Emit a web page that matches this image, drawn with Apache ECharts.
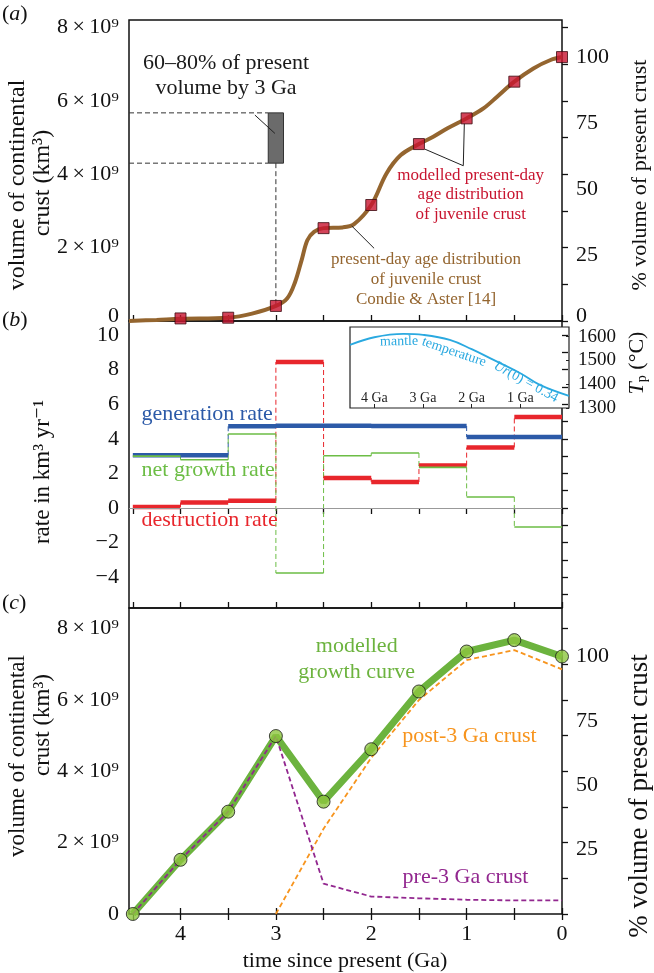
<!DOCTYPE html>
<html><head><meta charset="utf-8">
<script src="https://cdn.jsdelivr.net/npm/echarts@6/dist/echarts.min.js"></script>
<style>html,body{margin:0;padding:0;background:#fff}#c{width:654px;height:973px}</style>
</head><body><div id="c"></div><script>
const FONT = "'Liberation Serif','DejaVu Serif',serif";

// ---------- Panel (a): volume (x 1e9 km3) vs time (Ga) ----------
const condieAge = [4.54,4.25,4.0,3.5,3.25,3.0,2.88,2.8,2.73,2.67,2.6,2.5,2.3,2.18,2.0,1.84,1.69,1.5,1.35,1.2,1.0,0.82,0.68,0.5,0.3,0.12,0];
const condieVol = [0,0.03,0.06,0.09,0.2,0.41,0.62,1.05,1.66,2.2,2.43,2.53,2.55,2.64,3.16,4.02,4.52,4.82,5.02,5.25,5.52,5.8,6.11,6.52,6.88,7.11,7.19];
const modelAge = [4,3.5,3,2.5,2,1.5,1,0.5,0];
const modelVol = [0.07,0.09,0.41,2.53,3.16,4.82,5.52,6.52,7.19];
const boxAge = [3.08,2.92];
const boxVol = [4.30,5.67];
const presentVol = 7.19;

// ---------- Panel (b): rates (km3/yr) ----------
const stepEdges = [4.5,4,3.5,3,2.5,2,1.5,1,0.5,0];
const genRate = [3.05,3.05,4.72,4.76,4.76,4.74,4.74,4.10,4.10];
const netRate = [3.00,2.79,4.28,-3.76,3.02,3.18,2.35,0.64,-1.10];
const desRate = [0.06,0.32,0.42,8.44,1.73,1.50,2.45,3.50,5.26];

// inset: mantle temperature
const tempAge = [4.5,4.0,3.4,3.0,2.45,2.0,1.55,1.0,0.6,0];
const tempC = [1565,1597,1611,1607,1586,1547,1502,1446,1397,1351];

// ---------- Panel (c) ----------
const growthAge = [4.5,4,3.5,3,2.5,2,1.5,1,0.5,0];
const growthVol = [0,1.52,2.87,4.99,3.15,4.62,6.24,7.36,7.68,7.22];
const post3Age = [3,2.5,2,1.5,1,0.5,0];
const post3Vol = [0,2.39,4.38,6.0,7.12,7.40,6.86];
const pre3Age = [4.5,4,3.5,3,2.5,2,1.5,1,0.5,0];
const pre3Vol = [0,1.52,2.87,4.99,0.85,0.49,0.44,0.40,0.38,0.38];
const presentVolC = 7.22;

// ---------- ticks ----------
const xTicks = [0,0.5,1,1.5,2,2.5,3,3.5,4,4.5];
const xLabels = [0,1,2,3,4];
const volTicks = [0,1,2,3,4,5,6,7,8];
const volLabels = [0,2,4,6,8];
const pctLabelsA = [0,25,50,75,100];
const pctLabelsC = [25,50,75,100];
const rateTicks = [-5,-4,-3,-2,-1,0,1,2,3,4,5,6,7,8,9,10];
const rateLabels = [-4,-2,0,2,4,6,8,10];
const tempTicks = [1300,1400,1500,1600];
const insetAgeTicks = [1,2,3,4];

const X_MAX = 4.54, VA_MAX = 8.2, VC_MAX = 8.58, R_MIN = -5.78, R_MAX = 10.81;

const zip = (a, b) => a.map((v, i) => [v, b[i]]);
function steps(vals) {
  const d = [];
  for (let i = 0; i < vals.length; i++) d.push([stepEdges[i], vals[i]], [stepEdges[i + 1], vals[i]], [stepEdges[i + 1], null]);
  return d;
}
function risers(vals) {
  const d = [];
  for (let i = 0; i < vals.length - 1; i++) d.push([stepEdges[i + 1], vals[i]], [stepEdges[i + 1], vals[i + 1]], [stepEdges[i + 1], null]);
  return d;
}
const lbl = (extra) => Object.assign({ fontFamily: FONT, fontSize: 22, color: '#111' }, extra);
const tick = (vals, len, extra) => Object.assign({ show: true, inside: true, length: len, customValues: vals, lineStyle: { color: '#111', width: 1.3 } }, extra || {});
const sci = v => v === 0 ? '{z|0}' : v + '\u2009×\u200910⁹';
const zeroRich = { z: { fontFamily: FONT, fontSize: 22, color: '#111', padding: [0, 0, 10, 0] } };

function xAx(grid, pos, showLabels) {
  return {
    type: 'value', gridIndex: grid, position: pos, min: 0, max: X_MAX, inverse: true,
    axisLine: { show: false }, splitLine: { show: false },
    axisTick: tick(xTicks, 6),
    axisLabel: lbl({ show: showLabels, customValues: xLabels, margin: 9, formatter: v => Number.isInteger(v) ? String(v) : '' })
  };
}
const gridStyle = { show: true, borderColor: '#111', borderWidth: 1.5, backgroundColor: 'transparent' };

const option = {
  animation: false,
  backgroundColor: '#fff',
  grid: [
    Object.assign({ left: 129, top: 20, width: 433, height: 301 }, gridStyle),
    Object.assign({ left: 129, top: 321, width: 433, height: 287 }, gridStyle),
    Object.assign({ left: 129, top: 608, width: 433, height: 306 }, gridStyle),
    { show: true, left: 350, top: 327, width: 219, height: 81, backgroundColor: '#fff', borderColor: '#222', borderWidth: 1.2 }
  ],
  xAxis: [
    xAx(0, 'bottom', false),
    xAx(1, 'top', false),
    xAx(1, 'bottom', false),
    xAx(2, 'top', false),
    xAx(2, 'bottom', true),
    {
      type: 'value', gridIndex: 3, position: 'bottom', min: 0, max: 4.5, inverse: true,
      axisLine: { show: false }, splitLine: { show: false },
      axisTick: tick(insetAgeTicks, 4, { lineStyle: { color: '#222', width: 1 } }),
      axisLabel: lbl({ inside: true, customValues: insetAgeTicks, fontSize: 14, margin: 3, color: '#222', formatter: v => v + ' Ga' })
    }
  ],
  yAxis: [
    { type: 'value', gridIndex: 0, position: 'left', min: 0, max: VA_MAX, axisLine: { show: false }, splitLine: { show: false },
      axisTick: tick(volTicks, 6), axisLabel: lbl({ customValues: volLabels, margin: 10, formatter: sci, rich: zeroRich }) },
    { type: 'value', gridIndex: 0, position: 'right', min: 0, max: VA_MAX / presentVol * 100, axisLine: { show: false }, splitLine: { show: false },
      axisTick: { show: false }, axisLabel: lbl({ customValues: pctLabelsA, margin: 14, formatter: v => v === 0 ? '{z|0}' : String(v), rich: zeroRich }) },
    { type: 'value', gridIndex: 1, position: 'left', min: R_MIN, max: R_MAX, axisLine: { show: false }, splitLine: { show: false },
      axisTick: tick(rateTicks, 6), axisLabel: lbl({ customValues: rateLabels, margin: 10, formatter: v => v < 0 ? '\u2212' + (-v) : String(v) }) },
    { type: 'value', gridIndex: 2, position: 'left', min: 0, max: VC_MAX, axisLine: { show: false }, splitLine: { show: false },
      axisTick: tick(volTicks, 6), axisLabel: lbl({ customValues: volLabels, margin: 10, formatter: v => v === 0 ? '0' : v + '\u2009×\u200910⁹' }) },
    { type: 'value', gridIndex: 2, position: 'right', min: 0, max: VC_MAX / presentVolC * 100, axisLine: { show: false }, splitLine: { show: false },
      axisTick: { show: false }, axisLabel: lbl({ customValues: pctLabelsC, margin: 14 }) },
    { type: 'value', gridIndex: 3, position: 'right', min: 1300, max: 1640, axisLine: { show: false }, splitLine: { show: false },
      axisTick: tick(tempTicks, 3, { lineStyle: { color: '#222', width: 1 } }), axisLabel: lbl({ customValues: tempTicks, fontSize: 19, margin: 9, formatter: v => String(v) }) }
  ],
  series: [
    // ----- (a)
    { type: 'line', xAxisIndex: 0, yAxisIndex: 0, data: [
        [X_MAX, boxVol[1]], [boxAge[0], boxVol[1]], [boxAge[0], null],
        [X_MAX, boxVol[0]], [boxAge[0], boxVol[0]], [boxAge[0], null],
        [modelAge[2], boxVol[0]], [modelAge[2], modelVol[2]]],
      showSymbol: false, lineStyle: { color: '#333', width: 1, type: [5, 3] }, z: 1,
      markArea: { silent: true, itemStyle: { color: '#6b6b6b', borderColor: '#333', borderWidth: 1 },
        data: [[{ xAxis: boxAge[0], yAxis: boxVol[0] }, { xAxis: boxAge[1], yAxis: boxVol[1] }]] } },
    { type: 'line', xAxisIndex: 0, yAxisIndex: 0, data: zip(condieAge, condieVol), smooth: 0.35, showSymbol: false,
      lineStyle: { color: '#94652f', width: 4 }, z: 2 },
    { type: 'line', xAxisIndex: 0, yAxisIndex: 0, showSymbol: false, lineStyle: { color: '#222', width: 1 }, z: 3,
      data: [[3.22, 5.61], [3.01, 5.11], [3.01, null],
             [1.436, 4.68], [1.035, 4.23], [1.024, 5.38], [1.024, null],
             [1.97, 1.98], [2.205, 2.59]] },
    { type: 'scatter', xAxisIndex: 0, yAxisIndex: 0, data: zip(modelAge, modelVol), symbol: 'rect', symbolSize: 11,
      itemStyle: { color: '#c8142f', borderColor: '#3b0a10', borderWidth: 1 }, z: 5 },
    // ----- (b)
    { type: 'line', xAxisIndex: 2, yAxisIndex: 2, data: [], z: 1,
      markLine: { silent: true, symbol: 'none', label: { show: false }, lineStyle: { color: '#999', width: 1, type: 'solid' }, data: [{ yAxis: 0 }] } },
    { type: 'line', xAxisIndex: 2, yAxisIndex: 2, data: risers(genRate), showSymbol: false, lineStyle: { color: '#2c5aa8', width: 1, type: [5, 3] }, z: 2 },
    { type: 'line', xAxisIndex: 2, yAxisIndex: 2, data: risers(desRate), showSymbol: false, lineStyle: { color: '#e8262c', width: 1, type: [5, 3] }, z: 2 },
    { type: 'line', xAxisIndex: 2, yAxisIndex: 2, data: risers(netRate), showSymbol: false, lineStyle: { color: '#6cbd45', width: 1, type: [5, 3] }, z: 2 },
    { type: 'line', xAxisIndex: 2, yAxisIndex: 2, data: steps(genRate), showSymbol: false, lineStyle: { color: '#2c5aa8', width: 4.5, cap: 'butt' }, z: 3 },
    { type: 'line', xAxisIndex: 2, yAxisIndex: 2, data: steps(desRate), showSymbol: false, lineStyle: { color: '#e8262c', width: 4.5, cap: 'butt' }, z: 3 },
    { type: 'line', xAxisIndex: 2, yAxisIndex: 2, data: steps(netRate), showSymbol: false, lineStyle: { color: '#6cbd45', width: 1.6, cap: 'butt' }, z: 4 },
    // inset
    { type: 'line', xAxisIndex: 5, yAxisIndex: 5, data: zip(tempAge, tempC), smooth: 0.4, showSymbol: false, lineStyle: { color: '#2aa9e0', width: 1.8 }, z: 3 },
    // ----- (c)
    { type: 'line', xAxisIndex: 4, yAxisIndex: 3, data: zip(growthAge, growthVol), showSymbol: false, lineStyle: { color: '#6cb33e', width: 7 }, z: 2 },
    { type: 'line', xAxisIndex: 4, yAxisIndex: 3, data: zip(post3Age, post3Vol), showSymbol: false, lineStyle: { color: '#f7941d', width: 1.8, type: [5, 3] }, z: 3 },
    { type: 'line', xAxisIndex: 4, yAxisIndex: 3, data: zip(pre3Age, pre3Vol), showSymbol: false, lineStyle: { color: '#92278f', width: 1.8, type: [5, 3] }, z: 3 },
    { type: 'scatter', xAxisIndex: 4, yAxisIndex: 3, data: zip(growthAge, growthVol), symbol: 'circle', symbolSize: 13,
      itemStyle: { color: '#8dc63f', borderColor: '#1a1a1a', borderWidth: 1 }, z: 5 }
  ]
};

function T(x, y, text, size, color, extra) {
  return Object.assign({ type: 'text', x: x, y: y, z: 100,
    style: Object.assign({ text: text, fontFamily: FONT, fontSize: size, fill: color, align: 'center', verticalAlign: 'middle' }, (extra && extra.style) || {}) },
    extra && extra.rotation !== undefined ? { rotation: extra.rotation } : {});
}
const R90 = Math.PI / 2;
const italicRich = (size, color) => ({ i: { fontStyle: 'italic', fontFamily: FONT, fontSize: size, fill: color },
  n: { fontFamily: FONT, fontSize: size, fill: color } });
option.graphic = [
  T(2, 14, '{n|(}{i|a}{n|)}', 22, '#111', { style: { align: 'left', rich: italicRich(22, '#111') } }),
  T(2, 320, '{n|(}{i|b}{n|)}', 22, '#111', { style: { align: 'left', rich: italicRich(22, '#111') } }),
  T(2, 603, '{n|(}{i|c}{n|)}', 22, '#111', { style: { align: 'left', rich: italicRich(22, '#111') } }),
  T(226, 75.5, '60–80% of present\nvolume by 3 Ga', 22, '#1a1a1a', { style: { lineHeight: 25 } }),
  T(470.7, 194.7, 'modelled present-day\nage distribution\nof juvenile crust', 17, '#c8142f', { style: { lineHeight: 19.6 } }),
  T(426, 279.3, 'present-day age distribution\nof juvenile crust\nCondie & Aster [14]', 17, '#94652f', { style: { lineHeight: 20 } }),
  T(18, 185, 'volume of continental', 24, '#111', { rotation: R90 }),
  T(43, 183, 'crust (km³)', 24, '#111', { rotation: R90 }),
  T(640, 175, '% volume of present crust', 22, '#111', { rotation: R90 }),
  T(43, 472, 'rate in km³ yr⁻¹', 23, '#111', { rotation: R90 }),
  T(141.5, 414, 'generation rate', 22, '#2c5aa8', { style: { align: 'left' } }),
  T(141.5, 470.7, 'net growth rate', 22, '#6cbd45', { style: { align: 'left' } }),
  T(141.5, 520, 'destruction rate', 22, '#e8262c', { style: { align: 'left' } }),
  T(399, 341.5, 'mantle', 14, '#2aa9e0', { rotation: 0.02 }),
  T(454, 352, 'temperature', 14, '#2aa9e0', { rotation: -0.33 }),
  T(526, 382, '{i|Ur}{n|(0) = 0.34}', 14, '#2aa9e0', { rotation: -0.5, style: { rich: italicRich(14, '#2aa9e0') } }),
  T(637, 363, '{i|T}{s|p}{n| (°C)}', 22, '#111', { rotation: R90, style: { rich: Object.assign(italicRich(22, '#111'), { s: { fontFamily: FONT, fontSize: 14, fill: '#111', padding: [10, 0, 0, 0] } }) } }),
  T(356.7, 659.7, 'modelled\ngrowth curve', 22, '#6cb33e', { style: { lineHeight: 26 } }),
  T(469.5, 736, 'post-3 Ga crust', 22, '#f7941d'),
  T(465.5, 877, 'pre-3 Ga crust', 22, '#92278f'),
  T(18, 756, 'volume of continental', 23, '#111', { rotation: R90 }),
  T(43, 725, 'crust (km³)', 23, '#111', { rotation: R90 }),
  T(640, 796, '% volume of present crust', 27, '#111', { rotation: R90 }),
  T(345, 961.5, 'time since present (Ga)', 22, '#111')
];

const chart = echarts.init(document.getElementById('c'), null, { renderer: 'canvas' });
chart.setOption(option);
</script></body></html>
